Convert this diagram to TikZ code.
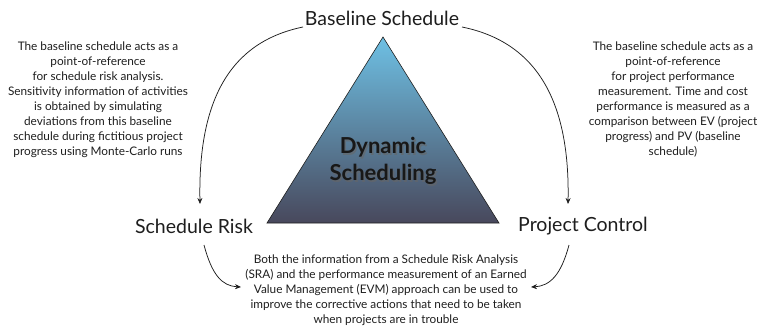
\documentclass[tikz,border=0pt]{standalone}
\usepackage{fontspec}
\setmainfont{Lato}
\usetikzlibrary{arrows.meta}
\definecolor{tritop}{RGB}{110,192,228}
\definecolor{trimid}{RGB}{74,130,168}
\definecolor{tribot}{RGB}{72,72,92}
\definecolor{ink}{RGB}{30,30,30}
\tikzset{
  biglabel/.style={font=\fontsize{19.5}{22}\selectfont, text=ink, inner sep=0pt},
  smalltext/.style={font=\fontsize{11.8}{15}\selectfont, text=ink, align=center, inner sep=0pt},
  conn/.style={draw=ink, line width=0.75pt, -{Stealth[length=6pt,width=5pt]}},
}
\begin{document}
\begin{tikzpicture}[x=1pt,y=-1pt]
\useasboundingbox (0,0) rectangle (763,330);
% triangle
\coordinate (apex) at (383,37);
\coordinate (bl) at (267,223);
\coordinate (br) at (499,223);
\shade[top color=tritop, middle color=trimid, bottom color=tribot, draw=ink, line width=0.6pt] (apex) -- (br) -- (bl) -- cycle;
% center text with shadow
\node[font=\fontsize{22}{27}\selectfont\bfseries, text=black!60, opacity=0.6, align=center, inner sep=0pt] (dsshadow) at (384.5,162.5) {Dynamic\\Scheduling};
\node[font=\fontsize{22}{27}\selectfont\bfseries, text=ink!80!black, align=center, inner sep=0pt] (ds) at (383,161) {Dynamic\\Scheduling};
% labels
\node[biglabel] (bs) at (382,18) {Baseline Schedule};
\node[biglabel] (sr) at (194,226) {Schedule Risk};
\node[biglabel] (pc) at (583,226) {Project Control};
% texts
\node[smalltext] (lt) at (98,100) {The baseline schedule acts as a\\point-of-reference\\for schedule risk analysis.\\Sensitivity information of activities\\is obtained by simulating\\deviations from this baseline\\schedule during fictitious project\\progress using Monte-Carlo runs};
\node[smalltext] (rt) at (673,100) {The baseline schedule acts as a\\point-of-reference\\for project performance\\measurement. Time and cost\\performance is measured as a\\comparison between EV (project\\progress) and PV (baseline\\schedule)};
\node[smalltext] (bt) at (386,290) {Both the information from a Schedule Risk Analysis\\(SRA) and the performance measurement of an Earned\\Value Management (EVM) approach can be used to\\improve the corrective actions that need to be taken\\when projects are in trouble};
% connectors
\coordinate (bsL) at (303,27);
\coordinate (bsR) at (462,27);
\coordinate (srT) at (200,204);
\coordinate (pcT) at (568,204);
\coordinate (srB) at (204,245);
\coordinate (pcB) at (569,245);
\coordinate (btL) at (241,287);
\coordinate (btR) at (531,287);
\draw[conn] (bsL) .. controls (230,42) and (198,100) .. (srT);
\draw[conn] (bsR) .. controls (536,42) and (570,100) .. (pcT);
\draw[conn] (srB) .. controls (212,275) and (222,286) .. (btL);
\draw[conn] (pcB) .. controls (561,275) and (550,286) .. (btR);
\end{tikzpicture}
\end{document}
